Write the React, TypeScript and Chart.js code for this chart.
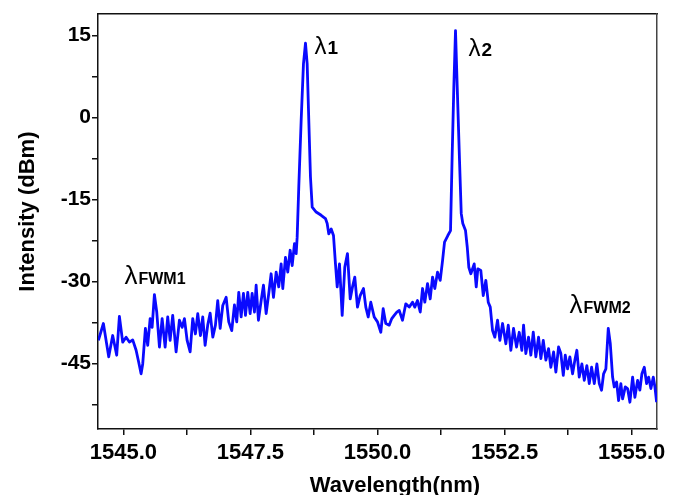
import React, { useEffect, useRef } from "react";
import { Chart, registerables } from "chart.js";

Chart.register(...registerables);

// ---- data ----
const wavelength = [
  1544.508, 1544.606, 1544.711, 1544.789, 1544.868, 1544.921, 1544.986, 1545.053, 1545.118, 1545.183,
  1545.25, 1545.301, 1545.348, 1545.38, 1545.433, 1545.478, 1545.526, 1545.565, 1545.61, 1545.656,
  1545.709, 1545.762, 1545.821, 1545.872, 1545.919, 1545.97, 1546.037, 1546.102, 1546.156, 1546.201,
  1546.254, 1546.313, 1546.364, 1546.417, 1546.463, 1546.516, 1546.561, 1546.608, 1546.659, 1546.707,
  1546.759, 1546.811, 1546.856, 1546.904, 1546.955, 1547.022, 1547.073, 1547.132, 1547.185, 1547.23,
  1547.27, 1547.317, 1547.362, 1547.402, 1547.447, 1547.494, 1547.533, 1547.579, 1547.612, 1547.657,
  1547.711, 1547.756, 1547.809, 1547.86, 1547.907, 1547.953, 1548.006, 1548.057, 1548.104, 1548.136,
  1548.189, 1548.234, 1548.281, 1548.321, 1548.366, 1548.4, 1548.419, 1548.451, 1548.498, 1548.543,
  1548.583, 1548.616, 1548.648, 1548.681, 1548.715, 1548.793, 1548.892, 1548.976, 1549.01, 1549.041,
  1549.089, 1549.134, 1549.173, 1549.207, 1549.252, 1549.305, 1549.356, 1549.409, 1549.463, 1549.508,
  1549.553, 1549.606, 1549.659, 1549.724, 1549.77, 1549.817, 1549.868, 1549.935, 1550.0, 1550.065,
  1550.112, 1550.163, 1550.23, 1550.281, 1550.329, 1550.38, 1550.427, 1550.492, 1550.557, 1550.624,
  1550.689, 1550.734, 1550.787, 1550.841, 1550.886, 1550.931, 1550.984, 1551.037, 1551.083, 1551.128,
  1551.181, 1551.234, 1551.28, 1551.319, 1551.384, 1551.437, 1551.47, 1551.502, 1551.535, 1551.569,
  1551.614, 1551.648, 1551.679, 1551.732, 1551.766, 1551.797, 1551.837, 1551.903, 1551.943, 1551.974,
  1552.033, 1552.081, 1552.132, 1552.179, 1552.219, 1552.264, 1552.309, 1552.362, 1552.408, 1552.461,
  1552.526, 1552.573, 1552.624, 1552.677, 1552.736, 1552.789, 1552.84, 1552.874, 1552.919, 1552.972,
  1553.018, 1553.065, 1553.116, 1553.169, 1553.215, 1553.262, 1553.313, 1553.366, 1553.411, 1553.465,
  1553.51, 1553.563, 1553.608, 1553.656, 1553.695, 1553.74, 1553.786, 1553.839, 1553.884, 1553.923,
  1553.97, 1554.022, 1554.069, 1554.12, 1554.167, 1554.213, 1554.266, 1554.317, 1554.364, 1554.409,
  1554.449, 1554.494, 1554.541, 1554.581, 1554.626, 1554.659, 1554.705, 1554.744, 1554.789, 1554.823,
  1554.876, 1554.921, 1554.967, 1555.02, 1555.065, 1555.118, 1555.163, 1555.203, 1555.25, 1555.295,
  1555.335, 1555.38, 1555.427, 1555.459, 1555.492,
];

const intensity = [
  -40.8, -37.7, -43.8, -39.9, -43.5, -36.4, -41.1, -40.2, -41.1, -40.7,
  -42.6, -44.8, -46.9, -45.1, -38.6, -41.7, -36.8, -38.4, -32.4, -35.6,
  -42.0, -36.8, -42.0, -36.5, -40.8, -36.2, -42.9, -37.1, -38.4, -36.8,
  -40.8, -42.9, -36.8, -39.6, -35.9, -39.9, -36.5, -41.7, -38.0, -35.8,
  -40.2, -38.0, -33.5, -38.6, -34.4, -32.9, -37.4, -39.0, -34.3, -37.4,
  -32.0, -36.5, -32.2, -36.2, -32.0, -35.9, -32.2, -35.6, -30.7, -37.1,
  -33.5, -30.7, -35.9, -32.2, -28.6, -32.9, -28.3, -31.0, -26.8, -31.3,
  -25.6, -28.3, -24.3, -27.1, -23.1, -24.9, -21.9, -12.7, -0.5, 9.8,
  13.6, 9.8, -0.5, -10.9, -16.4, -17.3, -17.9, -18.5, -19.4, -21.3,
  -20.4, -21.6, -26.8, -31.0, -26.8, -36.2, -27.4, -24.9, -33.2, -31.0,
  -29.2, -34.7, -32.6, -31.3, -34.7, -36.5, -33.8, -36.5, -37.4, -39.3,
  -35.0, -37.7, -38.0, -36.8, -36.2, -35.6, -35.3, -37.1, -34.1, -34.7,
  -33.8, -34.7, -33.5, -35.6, -31.3, -33.8, -30.4, -33.2, -29.2, -31.3,
  -28.3, -29.8, -26.2, -22.8, -21.6, -20.7, -6.6, 5.5, 15.9, 5.5,
  -7.9, -17.6, -19.4, -20.7, -23.7, -27.4, -28.6, -26.8, -31.0, -27.7,
  -28.0, -32.6, -29.8, -33.8, -34.7, -39.0, -40.2, -37.1, -40.8, -37.7,
  -41.4, -38.0, -42.6, -38.6, -42.0, -39.3, -42.6, -38.0, -43.2, -40.2,
  -43.5, -39.3, -43.8, -40.2, -44.1, -40.8, -44.4, -42.3, -45.7, -42.9,
  -46.6, -42.0, -43.2, -47.2, -43.5, -46.0, -43.8, -46.9, -44.4, -42.6,
  -47.5, -45.1, -48.1, -45.4, -48.7, -45.7, -48.7, -45.1, -48.7, -49.9,
  -46.9, -46.0, -38.6, -41.4, -47.5, -49.3, -48.4, -51.8, -48.7, -51.5,
  -49.3, -49.6, -52.1, -47.5, -51.2, -48.1, -49.9, -46.9, -45.7, -48.7,
  -47.5, -49.6, -47.5, -49.3, -52.1,
];

const xTicks = [1545, 1546.25, 1547.5, 1548.75, 1550, 1551.25, 1552.5, 1553.75, 1555];
const xTickLabels = ["1545.0", "", "1547.5", "", "1550.0", "", "1552.5", "", "1555.0"];
const yTicks = [-52.5, -45, -37.5, -30, -22.5, -15, -7.5, 0, 7.5, 15];
const yTickLabels = ["", "-45", "", "-30", "", "-15", "", "0", "", "15"];

const xTitle = "Wavelength(nm)";
const yTitle = "Intensity (dBm)";

// peak annotations: main symbol + subscript, anchored in data coordinates
const noteMain = ["λ", "λ", "λ", "λ"];
const noteSub = ["1", "2", "FWM1", "FWM2"];
const noteX = [1548.76, 1551.79, 1545.02, 1553.78];
const noteY = [11.7, 11.3, -30.4, -35.7];

const FONT = "'Liberation Sans', Arial, Helvetica, sans-serif";

const annotationPlugin = {
  id: "peakNotes",
  afterDatasetsDraw(chart: any) {
    const { ctx, scales } = chart;
    ctx.save();
    ctx.fillStyle = "#000";
    ctx.textBaseline = "alphabetic";
    ctx.textAlign = "left";
    for (let i = 0; i < noteMain.length; i++) {
      const px = scales.x.getPixelForValue(noteX[i]);
      const py = scales.y.getPixelForValue(noteY[i]);
      const isFwm = noteSub[i].length > 1;
      ctx.font = `${isFwm ? 26 : 24}px ${FONT}`;
      ctx.fillText(noteMain[i], px, py);
      const w = ctx.measureText(noteMain[i]).width;
      ctx.font = `bold ${isFwm ? 16 : 19}px ${FONT}`;
      ctx.fillText(noteSub[i], px + w + 1, py);
    }
    ctx.restore();
  },
  afterDraw(chart: any) {
    const { ctx, chartArea } = chart;
    ctx.save();
    ctx.fillStyle = "#000";
    ctx.font = `bold 22px ${FONT}`;
    ctx.textAlign = "center";
    ctx.textBaseline = "alphabetic";
    ctx.fillText(xTitle, chartArea.left + 297, chartArea.bottom + 63);
    ctx.translate(28, chartArea.top + 198);
    ctx.rotate(-Math.PI / 2);
    ctx.textBaseline = "middle";
    ctx.fillText(yTitle, 0, 0);
    ctx.restore();
  },
};

export default function App() {
  const canvasRef = useRef<HTMLCanvasElement | null>(null);

  useEffect(() => {
    const canvas = canvasRef.current;
    if (!canvas) return;
    const axisColor = "#111";
    const chart = new Chart(canvas, {
      type: "line",
      data: {
        datasets: [
          {
            data: wavelength.map((w, i) => ({ x: w, y: intensity[i] })),
            borderColor: "#0a0aff",
            borderWidth: 2.8,
            pointRadius: 0,
            tension: 0,
            fill: false,
            borderJoinStyle: "round",
          },
        ],
      },
      options: {
        animation: false,
        responsive: false,
        devicePixelRatio: 1,
        layout: { padding: { left: 0, top: 13, right: 21, bottom: 0 } },
        plugins: { legend: { display: false }, tooltip: { enabled: false } },
        scales: {
          x: {
            type: "linear",
            position: "bottom",
            min: 1544.5,
            max: 1555.5,
            afterBuildTicks: (scale: any) => {
              scale.ticks = xTicks.map((v) => ({ value: v }));
            },
            afterFit: (scale: any) => {
              scale.height = 66;
            },
            ticks: {
              autoSkip: false,
              maxRotation: 0,
              padding: 5,
              color: "#000",
              font: { family: FONT, size: 22, weight: "bold" },
              callback: (_v: any, i: number) => xTickLabels[i],
            },
            grid: { drawOnChartArea: false, drawTicks: true, tickLength: 6, color: axisColor, lineWidth: 1.5 },
            border: { display: true, color: axisColor, width: 1.5 },
          },
          y: {
            type: "linear",
            position: "left",
            min: -57,
            max: 19,
            afterBuildTicks: (scale: any) => {
              scale.ticks = yTicks.map((v) => ({ value: v }));
            },
            afterFit: (scale: any) => {
              scale.width = 98;
            },
            ticks: {
              autoSkip: false,
              padding: 1,
              color: "#000",
              font: { family: FONT, size: 21, weight: "bold" },
              callback: (_v: any, i: number) => yTickLabels[i],
            },
            grid: { drawOnChartArea: false, drawTicks: true, tickLength: 6, color: axisColor, lineWidth: 1.5 },
            border: { display: true, color: axisColor, width: 1.5 },
          },
          x2: {
            type: "linear",
            position: "top",
            min: 1544.5,
            max: 1555.5,
            ticks: { display: false },
            grid: { display: false, drawTicks: false },
            border: { display: true, color: axisColor, width: 1.5 },
            afterFit: (scale: any) => {
              scale.height = 0;
            },
          },
          y2: {
            type: "linear",
            position: "right",
            min: -57,
            max: 19,
            ticks: { display: false },
            grid: { display: false, drawTicks: false },
            border: { display: true, color: "#444", width: 1.5 },
            afterFit: (scale: any) => {
              scale.width = 0;
            },
          },
        },
      } as any,
      plugins: [annotationPlugin],
    });
    return () => chart.destroy();
  }, []);

  return (
    <div style={{ position: "fixed", left: 0, top: 0, width: 678, height: 495, background: "#fff" }}>
      <canvas ref={canvasRef} width={678} height={495} style={{ display: "block" }} />
    </div>
  );
}
